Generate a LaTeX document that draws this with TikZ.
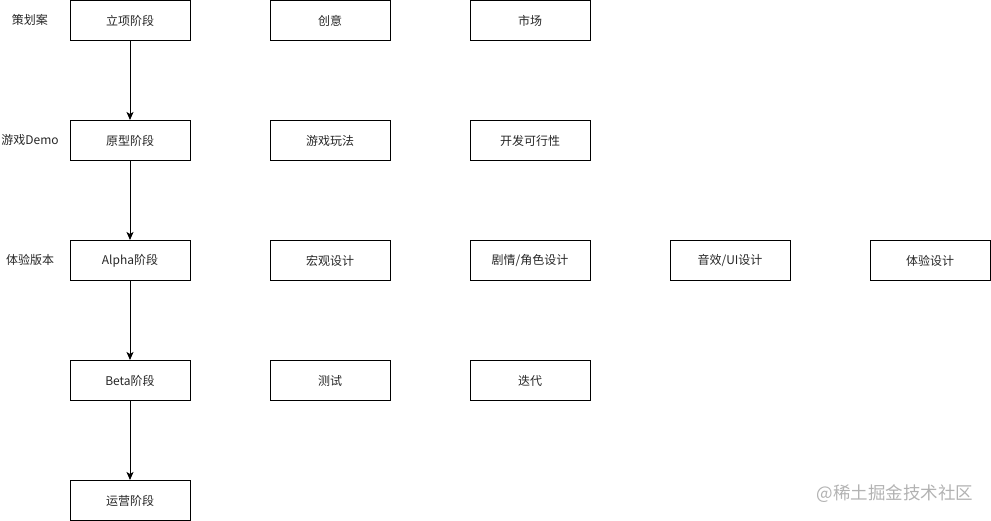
\documentclass[tikz,border=0pt]{standalone}
\usepackage{fontspec}
\setmainfont{Noto Sans CJK SC}
\usetikzlibrary{arrows.meta}
\begin{document}
\begin{tikzpicture}[x=1pt,y=-1pt,
  box/.style={draw=black,line width=1pt,minimum width=120pt,minimum height=40pt,inner sep=0pt,font=\fontsize{12}{14}\selectfont,text=black!85},
  lbl/.style={inner sep=0pt,font=\fontsize{12}{14}\selectfont,text=black!85},
  arr/.style={draw=black,line width=1pt,-{Stealth[length=8pt,width=7pt,inset=2pt]}},
  wm/.style={inner sep=0pt,font=\fontsize{17.5}{19}\selectfont,text=black!30}]
\useasboundingbox (0,0) rectangle (991,521);
% column 1
\node[box] (a1) at (130,20.5) {立项阶段};
\node[box] (a2) at (130,140.5) {原型阶段};
\node[box] (a3) at (130,260.5) {Alpha阶段};
\node[box] (a4) at (130,380.5) {Beta阶段};
\node[box] (a5) at (130,500.5) {运营阶段};
% labels
\node[lbl] (l1) at (30,20) {策划案};
\node[lbl] (l2) at (30,140) {游戏Demo};
\node[lbl] (l3) at (30,260) {体验版本};
% other boxes
\node[box] (b1) at (330,20.5) {创意};
\node[box] (c1) at (530,20.5) {市场};
\node[box] (b2) at (330,140.5) {游戏玩法};
\node[box] (c2) at (530,140.5) {开发可行性};
\node[box] (b3) at (330,260.5) {宏观设计};
\node[box] (c3) at (530,260.5) {剧情/角色设计};
\node[box] (d3) at (730,260.5) {音效/UI设计};
\node[box] (e3) at (930,260.5) {体验设计};
\node[box] (b4) at (330,380.5) {测试};
\node[box] (c4) at (530,380.5) {迭代};
% arrows
\draw[arr] (a1) -- (a2);
\draw[arr] (a2) -- (a3);
\draw[arr] (a3) -- (a4);
\draw[arr] (a4) -- (a5);
% watermark
\node[wm] (wm) at (895,494) {@稀土掘金技术社区};
\end{tikzpicture}
\end{document}
